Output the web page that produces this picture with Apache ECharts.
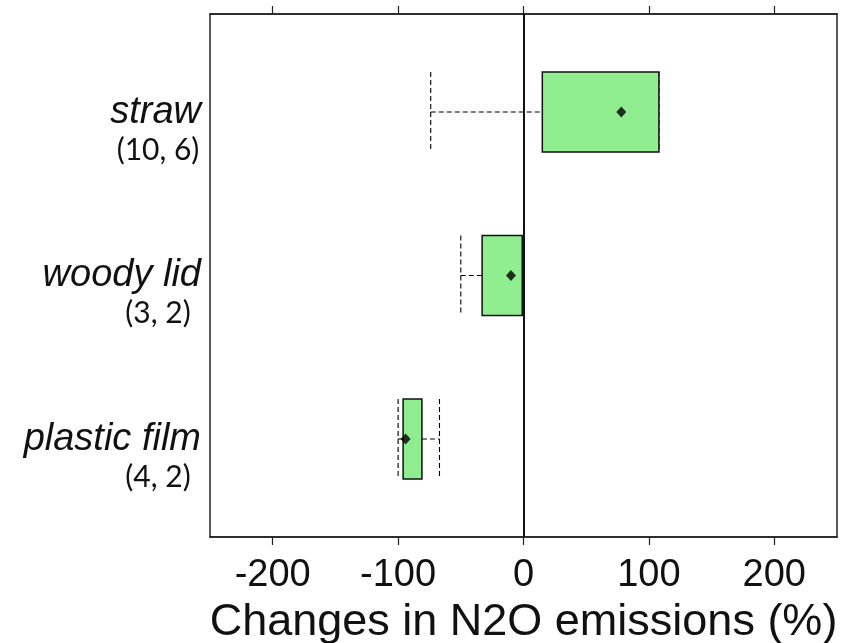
<!DOCTYPE html>
<html>
<head>
<meta charset="utf-8">
<script src="https://cdn.jsdelivr.net/npm/echarts@6/dist/echarts.min.js"></script>
<style>
  html, body { margin: 0; padding: 0; background: #fff; }
  #chart { width: 859px; height: 643px; }
</style>
</head>
<body>
<div id="chart"></div>
<script>
// data
const categories = ['straw', 'woody lid', 'plastic film'];
const counts = ['(10, 6)', '(3, 2)', '(4, 2)'];
const whiskerLow = [-74, -50, -100];
const boxLow = [15, -33, -96];
const boxHigh = [108, -1, -81];
const whiskerHigh = [108, 0, -67];
const means = [78, -10, -94];
const xTicks = [-200, -100, 0, 100, 200];

const boxData = categories.map((c, i) => [i + 1, whiskerLow[i], boxLow[i], boxHigh[i], whiskerHigh[i]]);
const meanData = categories.map((c, i) => [means[i], i + 1]);

const dashed = { stroke: '#000', lineWidth: 1.1, lineDash: [5, 3] };

function renderBox(params, api) {
  const y = api.value(0);
  const lo = api.coord([api.value(1), y]);
  const q1 = api.coord([api.value(2), y]);
  const q3 = api.coord([api.value(3), y]);
  const hi = api.coord([api.value(4), y]);
  const h = api.size([0, 0.49])[1];
  const top = lo[1] - h / 2;
  return {
    type: 'group',
    children: [
      { type: 'line', shape: { x1: lo[0], y1: lo[1], x2: q1[0], y2: q1[1] }, style: dashed },
      { type: 'line', shape: { x1: q3[0], y1: q3[1], x2: hi[0], y2: hi[1] }, style: dashed },
      { type: 'line', shape: { x1: lo[0], y1: top, x2: lo[0], y2: top + h }, style: dashed },
      { type: 'line', shape: { x1: hi[0], y1: top, x2: hi[0], y2: top + h }, style: dashed },
      {
        type: 'rect',
        shape: { x: q1[0], y: top, width: q3[0] - q1[0], height: h },
        style: { fill: '#90EE90', stroke: '#111', lineWidth: 1.5 }
      }
    ]
  };
}

const myChart = echarts.init(document.getElementById('chart'));
const option = {
  animation: false,
  grid: {
    left: 210,
    right: 22,
    top: 14,
    bottom: 106,
    outerBoundsMode: 'none',
    show: true,
    borderColor: '#222',
    borderWidth: 1.5
  },
  xAxis: [
    {
      type: 'value',
      min: -250,
      max: 250,
      position: 'bottom',
      name: 'Changes in N2O emissions (%)',
      nameLocation: 'middle',
      nameGap: 55,
      nameTextStyle: { fontFamily: 'Liberation Sans', fontSize: 45, color: '#111' },
      axisLine: { show: true, lineStyle: { color: '#222', width: 1.5 } },
      axisTick: { show: true, length: 8, customValues: xTicks, lineStyle: { color: '#222', width: 1.2 } },
      axisLabel: {
        customValues: xTicks,
        margin: 20,
        fontFamily: 'Liberation Sans',
        fontSize: 38,
        color: '#111'
      },
      splitLine: { show: false }
    },
    {
      type: 'value',
      min: -250,
      max: 250,
      position: 'top',
      axisLine: { show: true, lineStyle: { color: '#222', width: 1.5 } },
      axisTick: { show: true, length: 8, customValues: xTicks, lineStyle: { color: '#222', width: 1.2 } },
      axisLabel: { show: false },
      splitLine: { show: false }
    }
  ],
  yAxis: [
    {
      // category names
      type: 'value',
      inverse: true,
      min: 0.4,
      max: 3.6,
      axisLine: { show: true, lineStyle: { color: '#222', width: 1.5 } },
      axisTick: { show: false },
      splitLine: { show: false },
      axisLabel: {
        customValues: [1, 2, 3],
        margin: 9,
        padding: [12, 0, 0, 0],
        fontFamily: 'Liberation Sans',
        fontStyle: 'italic',
        fontSize: 38,
        color: '#111',
        formatter: function (v) {
          return categories[Math.round(v) - 1];
        }
      }
    },
    {
      // (studies, observations) counts under the names
      type: 'value',
      inverse: true,
      min: 0.4,
      max: 3.6,
      position: 'left',
      offset: 0,
      axisLine: { show: false },
      axisTick: { show: false },
      splitLine: { show: false },
      axisLabel: {
        customValues: [1, 2, 3],
        margin: 9,
        padding: [76, 0, 0, 0],
        formatter: function (v) {
          return '{b|' + counts[Math.round(v) - 1] + '}';
        },
        rich: {
          b: { fontFamily: 'Lato', fontSize: 30, width: 86, align: 'center', color: '#111' }
        }
      }
    }
  ],
  series: [
    {
      type: 'custom',
      renderItem: renderBox,
      encode: { x: [1, 2, 3, 4], y: 0 },
      data: boxData,
      z: 2
    },
    {
      type: 'scatter',
      symbol: 'diamond',
      symbolSize: [10, 11],
      itemStyle: { color: '#000' },
      data: meanData,
      z: 3,
      markLine: {
        silent: true,
        symbol: ['none', 'none'],
        label: { show: false },
        lineStyle: { color: '#111', width: 2, type: 'solid' },
        data: [{ xAxis: 0 }]
      }
    }
  ]
};
myChart.setOption(option);
window.addEventListener('resize', function () {
  myChart.resize();
});
</script>
</body>
</html>
